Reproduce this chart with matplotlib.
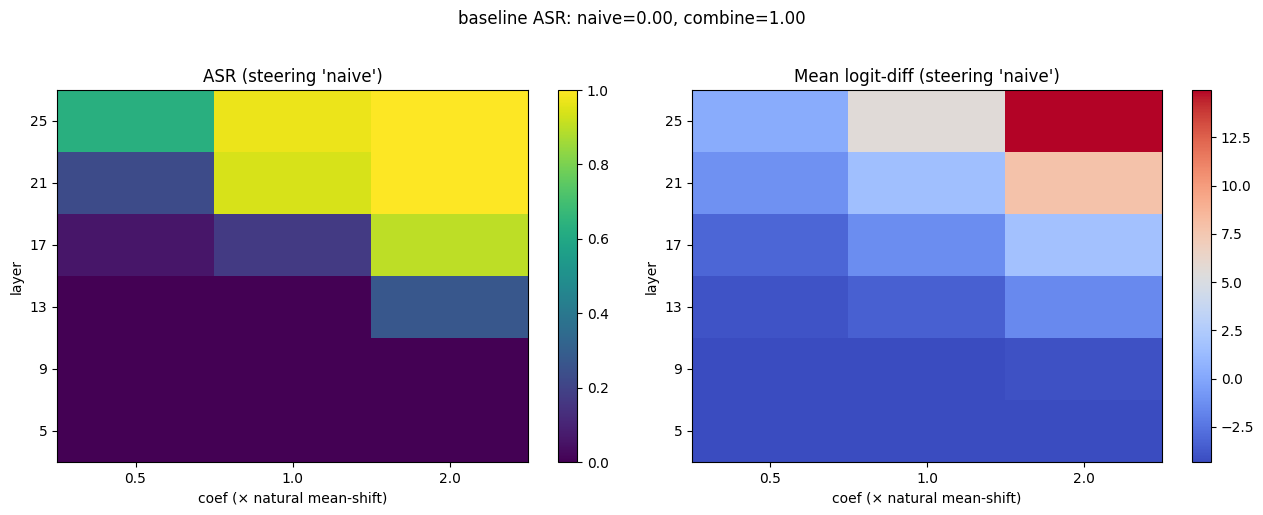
import numpy as np
import matplotlib
matplotlib.use("Agg")
import matplotlib.pyplot as plt

layers = [5, 9, 13, 17, 21, 25]
coefs = ["0.5", "1.0", "2.0"]

# rows ordered by layer (5 -> 25), columns by coef
asr = [
    [0.00, 0.00, 0.00],
    [0.00, 0.00, 0.00],
    [0.00, 0.00, 0.27],
    [0.06, 0.17, 0.90],
    [0.23, 0.94, 1.00],
    [0.63, 0.97, 1.00],
]
logit_diff = [
    [-4.32, -4.30, -4.29],
    [-4.31, -4.26, -4.09],
    [-3.97, -3.36, -1.53],
    [-3.12, -1.33, 1.75],
    [-1.14, 1.56, 7.80],
    [0.30, 5.60, 14.95],
]

W, H = 1263, 515
fig = plt.figure(figsize=(W / 100, H / 100), dpi=100)
fig.suptitle("baseline ASR: naive=0.00, combine=1.00")

def box(x0, x1, y0=90, y1=462):
    return [x0 / W, (H - y1) / H, (x1 - x0) / W, (y1 - y0) / H]

ax0 = fig.add_axes(box(57, 528))
cax0 = fig.add_axes(box(558, 577))
ax1 = fig.add_axes(box(692, 1162))
cax1 = fig.add_axes(box(1192, 1211))

im0 = ax0.imshow(np.array(asr), origin="lower", aspect="auto",
                 cmap="viridis", vmin=0, vmax=1)
ax0.set_title("ASR (steering 'naive')")
fig.colorbar(im0, cax=cax0)

im1 = ax1.imshow(np.array(logit_diff), origin="lower", aspect="auto",
                 cmap="coolwarm")
ax1.set_title("Mean logit-diff (steering 'naive')")
fig.colorbar(im1, cax=cax1)

for ax in (ax0, ax1):
    ax.set_xticks(range(len(coefs)))
    ax.set_xticklabels(coefs)
    ax.set_yticks(range(len(layers)))
    ax.set_yticklabels([str(l) for l in layers])
    ax.set_xlabel("coef (× natural mean-shift)")
    ax.set_ylabel("layer")

fig.savefig("out.png")
